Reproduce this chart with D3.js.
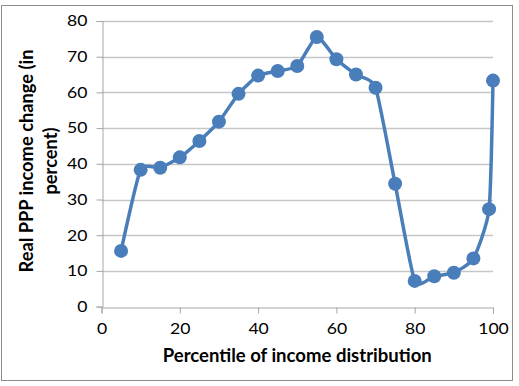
<!DOCTYPE html>
<html>
<head>
<meta charset="utf-8">
<script src="https://cdn.jsdelivr.net/npm/d3@7"></script>
<style>
  html, body { margin: 0; padding: 0; background: #fff; }
  svg { display: block; }
  text { font-family: Lato, "Open Sans", sans-serif; fill: #000; }
</style>
</head>
<body>
<svg id="chart" width="519" height="386"></svg>
<script>
const percentiles = [5, 10, 15, 20, 25, 30, 35, 40, 45, 50, 55, 60, 65, 70, 75, 80, 85, 90, 95, 99, 100];
const incomeChange = [15.6, 38.3, 38.9, 41.8, 46.4, 51.8, 59.6, 64.7, 66.0, 67.4, 75.5, 69.3, 65.0, 61.3, 34.4, 7.2, 8.5, 9.5, 13.5, 27.3, 63.3];
const xTicks = [0, 20, 40, 60, 80, 100];
const yTicks = [0, 10, 20, 30, 40, 50, 60, 70, 80];
const xTitle = "Percentile of income distribution";
const yTitleLines = ["Real PPP income change (in", "percent)"];

const data = percentiles.map((p, i) => ({ x: p, y: incomeChange[i] }));

const svg = d3.select("#chart");

// outer border
svg.append("rect")
  .attr("x", 1.5).attr("y", 5.5)
  .attr("width", 511).attr("height", 375)
  .attr("fill", "#fff").attr("stroke", "#8c8c8c").attr("stroke-width", 1);

const x = d3.scaleLinear().domain([0, 100]).range([101.5, 493]);
const y = d3.scaleLinear().domain([0, 80]).range([306.6, 21]);

// gridlines
svg.append("g")
  .selectAll("line")
  .data(yTicks.filter(t => t > 0))
  .join("line")
  .attr("x1", x(0)).attr("x2", x(100))
  .attr("y1", d => Math.round(y(d)) + 0.5).attr("y2", d => Math.round(y(d)) + 0.5)
  .attr("stroke", "#c6c6c6").attr("stroke-width", 1.3);

// Y axis
const yAxis = d3.axisLeft(y).tickValues(yTicks).tickSize(6).tickPadding(9);
const gy = svg.append("g")
  .attr("transform", `translate(${Math.round(x(0)) + 0.5},0)`)
  .call(yAxis);
gy.select(".domain").attr("stroke", "#a6a6a6");
gy.selectAll(".tick line").attr("stroke", "#a6a6a6");
gy.selectAll(".tick text")
  .attr("font-size", 15).attr("font-family", "Lato, sans-serif").attr("fill", "#000")
  .attr("textLength", d => String(d).length * 10.2).attr("lengthAdjust", "spacingAndGlyphs");

// X axis
const xAxis = d3.axisBottom(x).tickValues(xTicks).tickSize(6).tickPadding(10);
const gx = svg.append("g")
  .attr("transform", `translate(0,${Math.round(y(0)) + 0.5})`)
  .call(xAxis);
gx.select(".domain").attr("stroke", "#a6a6a6");
gx.selectAll(".tick line").attr("stroke", "#a6a6a6");
gx.selectAll(".tick text")
  .attr("font-size", 15).attr("font-family", "Lato, sans-serif").attr("fill", "#000")
  .attr("textLength", d => String(d).length * 10.2).attr("lengthAdjust", "spacingAndGlyphs");

// smoothed line
const line = d3.line()
  .x(d => x(d.x)).y(d => y(d.y))
  .curve(d3.curveCardinal.tension(0.45));

svg.append("path")
  .datum(data)
  .attr("d", line)
  .attr("fill", "none")
  .attr("stroke", "#4a7ebb")
  .attr("stroke-width", 3.5)
  .attr("stroke-linejoin", "round");

svg.append("g")
  .selectAll("circle")
  .data(data)
  .join("circle")
  .attr("cx", d => x(d.x)).attr("cy", d => y(d.y))
  .attr("r", 7)
  .attr("fill", "#4a7ebb");

// x title
svg.append("text")
  .attr("x", (x(0) + x(100)) / 2).attr("y", 362)
  .attr("text-anchor", "middle")
  .attr("font-size", 18).attr("font-weight", "bold")
  .attr("textLength", 269).attr("lengthAdjust", "spacingAndGlyphs")
  .text(xTitle);

// y title
const yt = svg.append("text")
  .attr("transform", `translate(0,161) rotate(-90)`)
  .attr("text-anchor", "middle")
  .attr("font-size", 18).attr("font-weight", "bold");
yt.append("tspan").attr("x", 0).attr("y", 33)
  .attr("textLength", 223).attr("lengthAdjust", "spacingAndGlyphs").text(yTitleLines[0]);
yt.append("tspan").attr("x", 0).attr("y", 57)
  .attr("textLength", 67).attr("lengthAdjust", "spacingAndGlyphs").text(yTitleLines[1]);
</script>
</body>
</html>
